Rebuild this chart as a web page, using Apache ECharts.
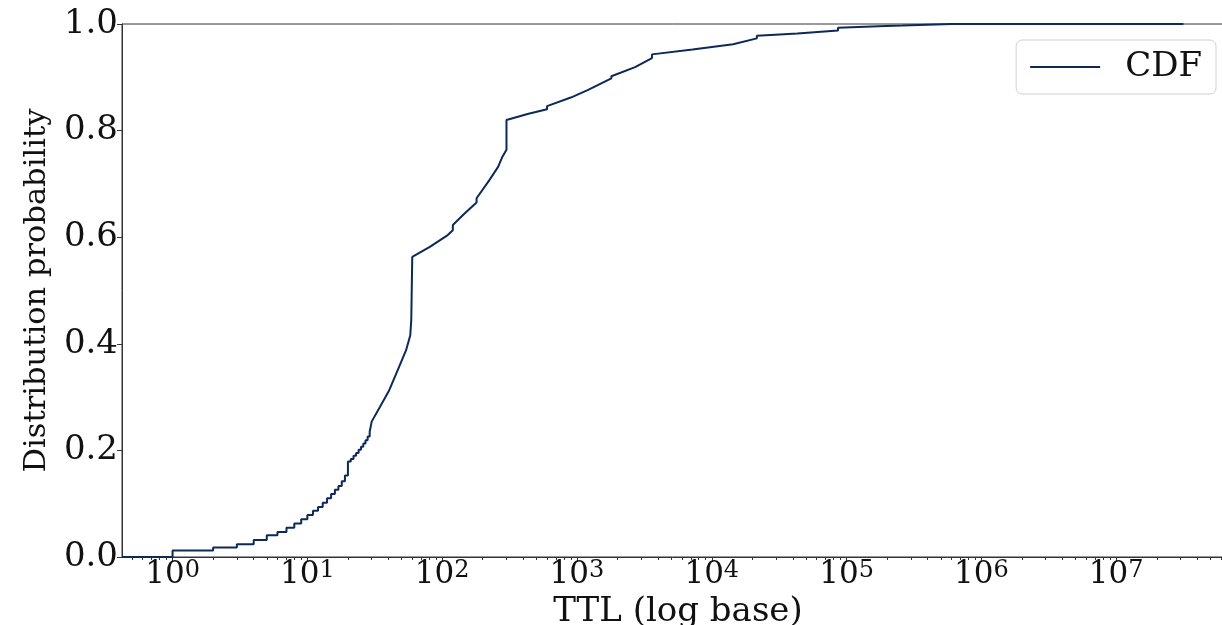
<!DOCTYPE html>
<html>
<head>
<meta charset="utf-8">
<script src="https://cdn.jsdelivr.net/npm/echarts@6/dist/echarts.min.js"></script>
<style>
  html, body { margin: 0; padding: 0; background: #fff; }
  #chart { width: 1222px; height: 625px; }
</style>
</head>
<body>
<div id="chart"></div>
<script>
// TTL values (seconds) and cumulative probability
const ttl = [
  1, 1, 2, 2, 3, 3, 4, 4, 5, 5, 6, 6, 7, 7, 8, 8, 9, 9, 10, 10,
  11, 11, 12, 12, 13, 13, 14, 14, 15, 15, 16, 16, 17, 17, 18, 18, 19, 19, 20, 20,
  21, 21, 22, 22, 23, 23, 24, 24, 25, 25, 26, 26, 27, 27, 28, 28, 29, 29, 30, 30,
  34.6, 40.5, 48, 54, 58, 59, 60, 60,
  81, 110, 120, 120, 146, 180, 180, 224, 260, 280, 300, 300,
  430, 600, 600, 900, 900, 1200, 1800, 1800, 2700, 3600, 3600,
  7200, 14400, 14400, 21600, 21600, 43200, 86400, 86400,
  172800, 259200, 604800, 31536000,
];
const cdf = [
  0, 0.012, 0.012, 0.018, 0.018, 0.024, 0.024, 0.032, 0.032, 0.041, 0.041, 0.047, 0.047, 0.055, 0.055, 0.063, 0.063, 0.071, 0.071, 0.079,
  0.079, 0.087, 0.087, 0.094, 0.094, 0.102, 0.102, 0.110, 0.110, 0.118, 0.118, 0.126, 0.126, 0.133, 0.133, 0.142, 0.142, 0.153, 0.153, 0.179,
  0.179, 0.184, 0.184, 0.190, 0.190, 0.195, 0.195, 0.201, 0.201, 0.207, 0.207, 0.213, 0.213, 0.219, 0.219, 0.226, 0.226, 0.235, 0.235, 0.254,
  0.282, 0.313, 0.357, 0.388, 0.416, 0.445, 0.445, 0.563,
  0.582, 0.604, 0.613, 0.623, 0.644, 0.665, 0.673, 0.707, 0.732, 0.751, 0.764, 0.820,
  0.831, 0.840, 0.846, 0.862, 0.865, 0.876, 0.898, 0.902, 0.919, 0.936, 0.943,
  0.952, 0.962, 0.964, 0.973, 0.978, 0.982, 0.988, 0.993,
  0.996, 0.997, 1.0, 1.0,
];
const xMajorTicks = [1, 1e1, 1e2, 1e3, 1e4, 1e5, 1e6, 1e7];
const yTicks = [0, 0.2, 0.4, 0.6, 0.8, 1.0];

const xMin = Math.pow(10, -0.375);
const xMax = Math.pow(10, 7.874);

// matplotlib style minor ticks at 2..9 x 10^k
const xMinorTicks = [];
for (let k = -1; k <= 7; k++) {
  for (let m = 2; m <= 9; m++) {
    const v = m * Math.pow(10, k);
    if (v > xMin && v < xMax) xMinorTicks.push(v);
  }
}

const FONT = '"DejaVu Serif", serif';
const AXIS_COLOR = '#333';
const LINE_COLOR = '#0b2a57';

const chart = echarts.init(document.getElementById('chart'), null, { renderer: 'canvas' });

chart.setOption({
  animation: false,
  backgroundColor: '#fff',
  grid: {
    left: 122,
    right: -12,
    top: 24,
    bottom: 68,
    outerBoundsMode: 'none',
    containLabel: false,
    show: true,
    borderColor: AXIS_COLOR,
    borderWidth: 1,
    backgroundColor: 'transparent',
  },
  legend: {
    right: 6,
    top: 40,
    padding: [10, 14, 10, 13],
    itemWidth: 70,
    itemHeight: 14,
    backgroundColor: '#fff',
    borderColor: '#d0d0d0',
    borderWidth: 1,
    borderRadius: 6,
    itemStyle: { opacity: 0 },
    textStyle: {
      fontFamily: FONT,
      fontSize: 34,
      lineHeight: 32,
      color: '#111',
      padding: [0, 0, 0, 20],
    },
    data: ['CDF'],
  },
  xAxis: [
    {
      type: 'log',
      logBase: 10,
      min: xMin,
      max: xMax,
      name: 'TTL (log base)',
      nameLocation: 'middle',
      nameGap: 36,
      nameTextStyle: {
        fontFamily: FONT,
        fontSize: 34,
        lineHeight: 34,
        color: '#111',
      },
      axisLine: { show: true, lineStyle: { color: AXIS_COLOR, width: 1 } },
      axisTick: {
        show: true,
        inside: false,
        length: 5,
        customValues: xMajorTicks,
        lineStyle: { color: AXIS_COLOR, width: 1 },
      },
      axisLabel: {
        customValues: xMajorTicks,
        margin: 2,
        formatter: (v) => '{b|10}{s|' + Math.round(Math.log10(v)) + '}',
        rich: {
          b: { fontFamily: FONT, fontSize: 31, lineHeight: 31, color: '#111' },
          s: { fontFamily: FONT, fontSize: 24, lineHeight: 20, verticalAlign: 'top', color: '#111' },
        },
      },
      splitLine: { show: false },
    },
    {
      type: 'log',
      logBase: 10,
      min: xMin,
      max: xMax,
      gridIndex: 0,
      position: 'bottom',
      axisLine: { show: false },
      axisTick: {
        show: true,
        inside: false,
        length: 3,
        customValues: xMinorTicks,
        lineStyle: { color: AXIS_COLOR, width: 1 },
      },
      axisLabel: { show: false },
      splitLine: { show: false },
    },
  ],
  yAxis: {
    type: 'value',
    min: 0,
    max: 1,
    interval: 0.2,
    name: 'Distribution probability',
    nameLocation: 'middle',
    nameGap: 61,
    nameTextStyle: {
      fontFamily: FONT,
      fontSize: 30.5,
      lineHeight: 31,
      color: '#111',
    },
    axisLine: { show: true, lineStyle: { color: AXIS_COLOR, width: 1 } },
    axisTick: {
      show: true,
      inside: false,
      length: 5,
      customValues: yTicks,
      lineStyle: { color: AXIS_COLOR, width: 1 },
    },
    axisLabel: {
      margin: 4,
      fontFamily: FONT,
      fontSize: 34,
      color: '#111',
      formatter: (v) => v.toFixed(1),
    },
    splitLine: { show: false },
  },
  series: [
    {
      name: 'CDF',
      type: 'line',
      xAxisIndex: 0,
      symbol: 'none',
      showSymbol: false,
      lineStyle: { color: LINE_COLOR, width: 2 },
      itemStyle: { color: LINE_COLOR },
      data: [[xMin, 0]].concat(ttl.map((t, i) => [t, cdf[i]])),
    },
  ],
});
</script>
</body>
</html>
